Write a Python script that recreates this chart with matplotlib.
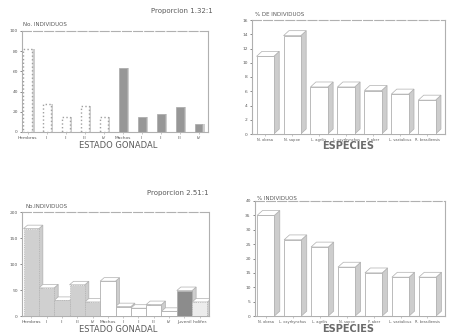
import numpy as np
import matplotlib
matplotlib.use("Agg")
import matplotlib.pyplot as plt
from matplotlib.patches import Polygon

# ---- data ----
gon_labels_a = ["Hembras", "I", "II", "III", "IV", "Machos", "I", "II", "III", "IV"]
gon_values_a = [82, 28, 15, 26, 15, 63, 15, 18, 25, 8]
gon_groups_a = ["h", "f", "f", "f", "f", "m", "m", "m", "m", "m"]

gon_labels_b = ["Hembras", "I", "II", "III", "IV", "Machos", "I", "II", "III", "IV",
                "Juvenil", "Indifer."]
gon_values_b = [168, 54, 30, 60, 27, 67, 18, 15, 22, 9, 49, 27]
gon_groups_b = ["f", "f", "f", "f", "f", "m", "m", "m", "m", "m", "j", "i"]

esp_labels_a = ["N. obesa", "N. sapoe", "L. agrilis", "L. oxyrhynchus", "P. aber",
                "L. vastalicus", "R. brasiliensis"]
esp_values_a = [10.9, 13.8, 6.6, 6.6, 6.1, 5.6, 4.75]
esp_ticks_a = [0, 2, 4, 6, 8, 10, 12, 14, 16]

esp_labels_b = ["N. obesa", "L. oxyrhynchus", "L. agrilis", "N. sapoe", "P. aber",
                "L. vastalicus", "R. brasiliensis"]
esp_values_b = [35, 26.5, 24, 17, 15, 13.5, 13.5]
esp_ticks_b = [0, 5, 10, 15, 20, 25, 30, 35, 40]

EDGE = "#b0b0b0"
TXT = "#5a5a5a"
SIDE = "#cdcdcd"

W, H = 454, 336
fig = plt.figure(figsize=(W / 100, H / 100), dpi=100)
fig.patch.set_facecolor("white")


def px_axes(l, t, r, b):
    return fig.add_axes([l / W, 1 - b / H, (r - l) / W, (b - t) / H])


def style(ax):
    for s in ax.spines.values():
        s.set_color(EDGE)
        s.set_linewidth(0.8)
    ax.spines["top"].set_linestyle((0, (8, 2)))
    ax.tick_params(colors=TXT, labelsize=3.2, length=1.5, width=0.5, pad=1.5)
    ax.tick_params(axis="x", colors=EDGE, labelcolor=TXT)


def bar3d(ax, x, h, w, dx, dy, face, side=SIDE, ls="-"):
    ax.bar(x, h, w, color=face, edgecolor=EDGE, linewidth=0.6, linestyle=ls, zorder=3)
    x1 = x + w / 2
    ax.add_patch(Polygon([[x1, 0], [x1 + dx, dy], [x1 + dx, h + dy], [x1, h]],
                         closed=True, facecolor=side, edgecolor=EDGE, lw=0.5, zorder=2))
    x0 = x - w / 2
    ax.add_patch(Polygon([[x0, h], [x0 + dx, h + dy], [x1 + dx, h + dy], [x1, h]],
                         closed=True, facecolor="white", edgecolor=EDGE, lw=0.5, zorder=2))


# ---- top-left: estado gonadal, proporcion 1.32:1 ----
ax = px_axes(22, 31, 208, 132)
style(ax)
x = np.arange(len(gon_values_a))
for xi, v, g in zip(x, gon_values_a, gon_groups_a):
    w = 0.5 if g == "h" else 0.42
    if g == "m":
        ax.bar(xi, v, w, color="#979797", edgecolor="#a8a8a8", lw=0.5, zorder=3)
    else:
        ax.bar(xi, v, w, color="white", edgecolor="#a0a0a0", lw=1.0, linestyle=":", zorder=3)
    ax.bar(xi + w / 2 + 0.06, v, 0.12, color=SIDE, lw=0, zorder=2)
ax.set_xlim(-0.3, 9.5)
ax.set_ylim(0, 100)
ax.set_yticks([0, 20, 40, 60, 80, 100])
ax.set_xticks(x)
ax.set_xticklabels(gon_labels_a)
fig.text(23 / W, 1 - 24 / H, "No. INDIVIDUOS", fontsize=4, color=TXT, va="center")
fig.text(213 / W, 1 - 11 / H, "Proporcion 1.32:1", fontsize=5, color=TXT, ha="right", va="center")
fig.text(118 / W, 1 - 146 / H, "ESTADO GONADAL", fontsize=6, color=TXT, ha="center", va="center")

# ---- top-right: especies ----
ax = px_axes(252, 20, 445, 134)
style(ax)
x = np.arange(len(esp_values_a))
for xi, v in zip(x, esp_values_a):
    bar3d(ax, xi, v, 0.64, 0.2, 0.7, "white")
ax.set_xlim(-0.49, 6.67)
ax.set_ylim(0, 16)
ax.set_yticks(esp_ticks_a)
ax.set_xticks(x)
ax.set_xticklabels(esp_labels_a, fontsize=2.6)
fig.text(255 / W, 1 - 15 / H, "% DE INDIVIDUOS", fontsize=4, color=TXT, va="center")
fig.text(348 / W, 1 - 146 / H, "ESPECIES", fontsize=7, color="#6a6a6a", ha="center",
         va="center", weight="semibold")

# ---- bottom-left: estado gonadal, proporcion 2.51:1 ----
ax = px_axes(22, 212, 209, 316)
style(ax)
x = np.arange(len(gon_values_b))
face_b = {"f": "#d0d0d0", "m": "white", "j": "#8c8c8c", "i": "#ececec"}
for xi, v, g in zip(x, gon_values_b, gon_groups_b):
    bar3d(ax, xi, v, 1.0, 0.26, 6.7, face_b[g], ls=":" if g in "fi" else "-")
ax.set_xlim(-0.6, 11.6)
ax.set_ylim(0, 200)
ax.set_yticks([0, 50, 100, 150, 200])
ax.set_xticks(x)
ax.set_xticklabels(gon_labels_b)
fig.text(25 / W, 1 - 207 / H, "No.INDIVIDUOS", fontsize=4, color=TXT, va="center")
fig.text(209 / W, 1 - 193 / H, "Proporcion 2.51:1", fontsize=5, color=TXT, ha="right", va="center")
fig.text(118 / W, 1 - 330 / H, "ESTADO GONADAL", fontsize=6, color=TXT, ha="center", va="center")

# ---- bottom-right: especies ----
ax = px_axes(255, 201, 445, 316)
style(ax)
x = np.arange(len(esp_values_b))
for xi, v in zip(x, esp_values_b):
    bar3d(ax, xi, v, 0.64, 0.2, 1.7, "white")
ax.set_xlim(-0.4, 6.65)
ax.set_ylim(0, 40)
ax.set_yticks(esp_ticks_b)
ax.set_xticks(x)
ax.set_xticklabels(esp_labels_b, fontsize=2.6)
fig.text(257 / W, 1 - 199 / H, "% INDIVIDUOS", fontsize=4, color=TXT, va="center")
fig.text(348 / W, 1 - 329 / H, "ESPECIES", fontsize=7, color="#6a6a6a", ha="center",
         va="center", weight="semibold")

fig.savefig("out.png", dpi=100, facecolor="white")
